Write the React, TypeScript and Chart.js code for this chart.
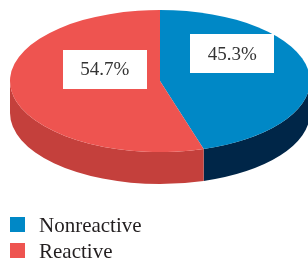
import React, { useEffect, useRef } from "react";
import { Chart, registerables } from "chart.js";

Chart.register(...registerables);

const categories = ["Nonreactive", "Reactive"];
const values = [45.3, 54.7];
const valueLabels = ["45.3%", "54.7%"];
const topColors = ["#0088C6", "#EE5450"];
const sideColors = ["#002648", "#C4403C"];

export default function App() {
  const ref = useRef<HTMLCanvasElement>(null);

  useEffect(() => {
    document.body.style.margin = "0";
    const CX = 160, CY = 81, RX = 150, RY = 71, DEPTH = 32;
    const FONT = "'Liberation Serif', 'Times New Roman', serif";

    const frontRanges = (s: number, e: number) => {
      const out: [number, number][] = [];
      for (let k = -1; k <= 1; k++) {
        const lo = Math.max(s, 2 * Math.PI * k);
        const hi = Math.min(e, 2 * Math.PI * k + Math.PI);
        if (hi > lo) out.push([lo, hi]);
      }
      return out;
    };

    const pie3d = {
      id: "pie3d",
      beforeDatasetsDraw(chart: any) {
        const ctx = chart.ctx as CanvasRenderingContext2D;
        const arcs = chart.getDatasetMeta(0).data as any[];
        ctx.save();
        arcs.forEach((arc, i) => {
          frontRanges(arc.startAngle, arc.endAngle).forEach(([lo, hi]) => {
            ctx.beginPath();
            ctx.ellipse(CX, CY, RX, RY, 0, lo, hi, false);
            ctx.ellipse(CX, CY + DEPTH, RX, RY, 0, hi, lo, true);
            ctx.closePath();
            ctx.fillStyle = sideColors[i];
            ctx.fill();
          });
        });
        ctx.restore();
        const a0 = arcs[0];
        ctx.save();
        ctx.translate(CX, CY);
        ctx.scale(RX / a0.outerRadius, RY / a0.outerRadius);
        ctx.translate(-a0.x, -a0.y);
      },
      afterDatasetsDraw(chart: any) {
        const ctx = chart.ctx as CanvasRenderingContext2D;
        ctx.restore();
        const arcs = chart.getDatasetMeta(0).data as any[];
        ctx.save();
        arcs.forEach((arc, i) => {
          const mid = (arc.startAngle + arc.endAngle) / 2;
          const lx = CX + 8.5 + RX * 0.43 * Math.cos(mid);
          const ly = CY - 19.5 + RY * 0.76 * Math.sin(mid);
          const bw = 84, bh = 39;
          ctx.fillStyle = "#ffffff";
          ctx.fillRect(Math.round(lx - bw / 2), Math.round(ly - bh / 2), bw, bh);
          ctx.fillStyle = "#333333";
          ctx.font = `19px ${FONT}`;
          ctx.textAlign = "center";
          ctx.textBaseline = "middle";
          ctx.fillText(valueLabels[i], lx, ly + 1);
        });
        // legend
        categories.forEach((name, i) => {
          const top = 217 + i * 26;
          ctx.fillStyle = topColors[i];
          ctx.fillRect(10, top, 15, 15);
          ctx.fillStyle = "#231f20";
          ctx.font = `21px ${FONT}`;
          ctx.textAlign = "left";
          ctx.textBaseline = "alphabetic";
          ctx.fillText(name, 39, top + 15);
        });
        ctx.restore();
      },
    };

    const chart = new Chart(ref.current as HTMLCanvasElement, {
      type: "pie",
      data: {
        labels: categories,
        datasets: [
          {
            data: values,
            backgroundColor: topColors,
            borderWidth: 0,
            clip: false,
          } as any,
        ],
      },
      options: {
        responsive: false,
        animation: false,
        events: [],
        plugins: {
          legend: { display: false },
          tooltip: { enabled: false },
        },
      },
      plugins: [pie3d],
    });
    return () => chart.destroy();
  }, []);

  return (
    <div style={{ width: 308, height: 263 }}>
      <canvas ref={ref} width={308} height={263} style={{ display: "block" }} />
    </div>
  );
}
